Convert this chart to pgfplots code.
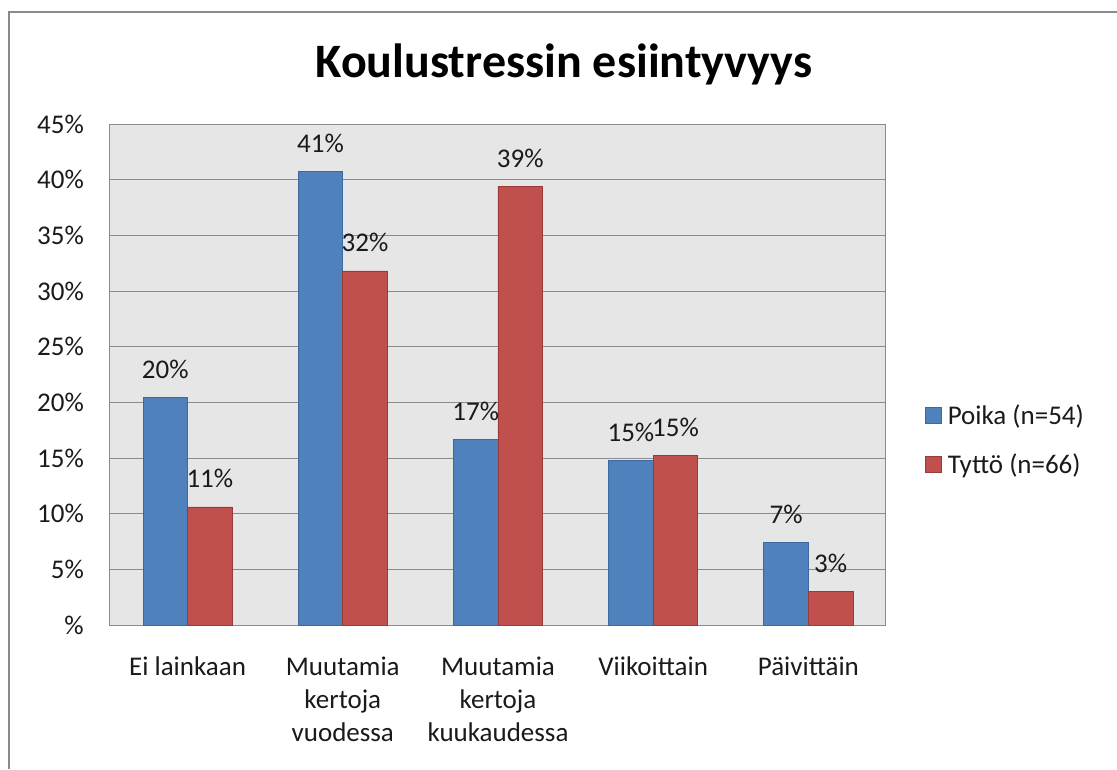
\documentclass[border=0pt]{standalone}
\usepackage{pgfplots}
\pgfplotsset{compat=1.18}
\usepackage{fontspec}
\setmainfont{Carlito}
\definecolor{barblue}{HTML}{4F81BD}
\definecolor{barblueb}{HTML}{3A6A9F}
\definecolor{barred}{HTML}{C0504D}
\definecolor{barredb}{HTML}{9B3B38}
\definecolor{gridc}{HTML}{8C8C8C}
\definecolor{bgc}{HTML}{E6E6E6}
\definecolor{framec}{HTML}{8A8A8A}
\definecolor{txt}{HTML}{1A1A1A}
\newcommand{\lbl}{\fontsize{27}{33}\selectfont}
\pgfplotsset{sqlegend/.style={legend image code/.code={\draw[##1] (0pt,-8pt) rectangle (16pt,8pt);}}}
\begin{document}
\begin{tikzpicture}[x=1pt,y=1pt]
\useasboundingbox (-110,-144) rectangle (1007,625);
\draw[framec, line width=2pt] (-101,-144) -- (-101,613) -- (1007,613);
\node[anchor=base, font=\fontsize{48}{56}\selectfont\bfseries, text=black, inner sep=0] at (454,547) {Koulustressin esiintyvyys};
\begin{axis}[
  at={(0pt,0pt)}, anchor=south west,
  scale only axis, width=776pt, height=501pt,
  /pgf/number format/assume math mode=true,
  ybar=0pt, bar width=0.287,
  xmin=-0.5, xmax=4.5, ymin=0, ymax=45,
  xtick={0,1,2,3,4},
  xticklabels={Ei lainkaan, Muutamia\\kertoja\\vuodessa, Muutamia\\kertoja\\kuukaudessa, Viikoittain, Päivittäin},
  ytick={0,5,...,45},
  yticklabels={\%,5\%,10\%,15\%,20\%,25\%,30\%,35\%,40\%,45\%},
  major tick length=0pt,
  axis background/.style={fill=bgc},
  axis line style={gridc, line width=1pt},
  ymajorgrids, grid style={gridc, line width=1pt},
  xticklabel style={align=center, font=\lbl, text=txt, anchor=north, inner sep=0pt, yshift=-32pt},
  yticklabel style={font=\lbl, text=txt, anchor=east, inner sep=0pt, xshift=-26pt},
  nodes near coords={\pgfmathprintnumber[fixed,precision=0]{\pgfplotspointmeta}\%},
  nodes near coords style={font=\lbl, text=txt, anchor=base, inner sep=0pt, yshift=19pt},
  legend style={at={(rel axis cs:1.05,0.37)}, anchor=west, draw=none, fill=none, font=\lbl, text=txt,
    row sep=28pt, inner sep=0pt, nodes={inner sep=0pt}, cells={anchor=west},
    /tikz/every odd column/.style={column sep=6pt}},
]
\addplot[fill=barblue, draw=barblueb, line width=0.8pt, sqlegend] coordinates {(0,20.4) (1,40.7) (2,16.7) (3,14.8) (4,7.4)};
\addplot[fill=barred, draw=barredb, line width=0.8pt, sqlegend] coordinates {(0,10.6) (1,31.8) (2,39.4) (3,15.2) (4,3.0)};
\legend{Poika (n=54), Tyttö (n=66)}
\end{axis}
\end{tikzpicture}
\end{document}
